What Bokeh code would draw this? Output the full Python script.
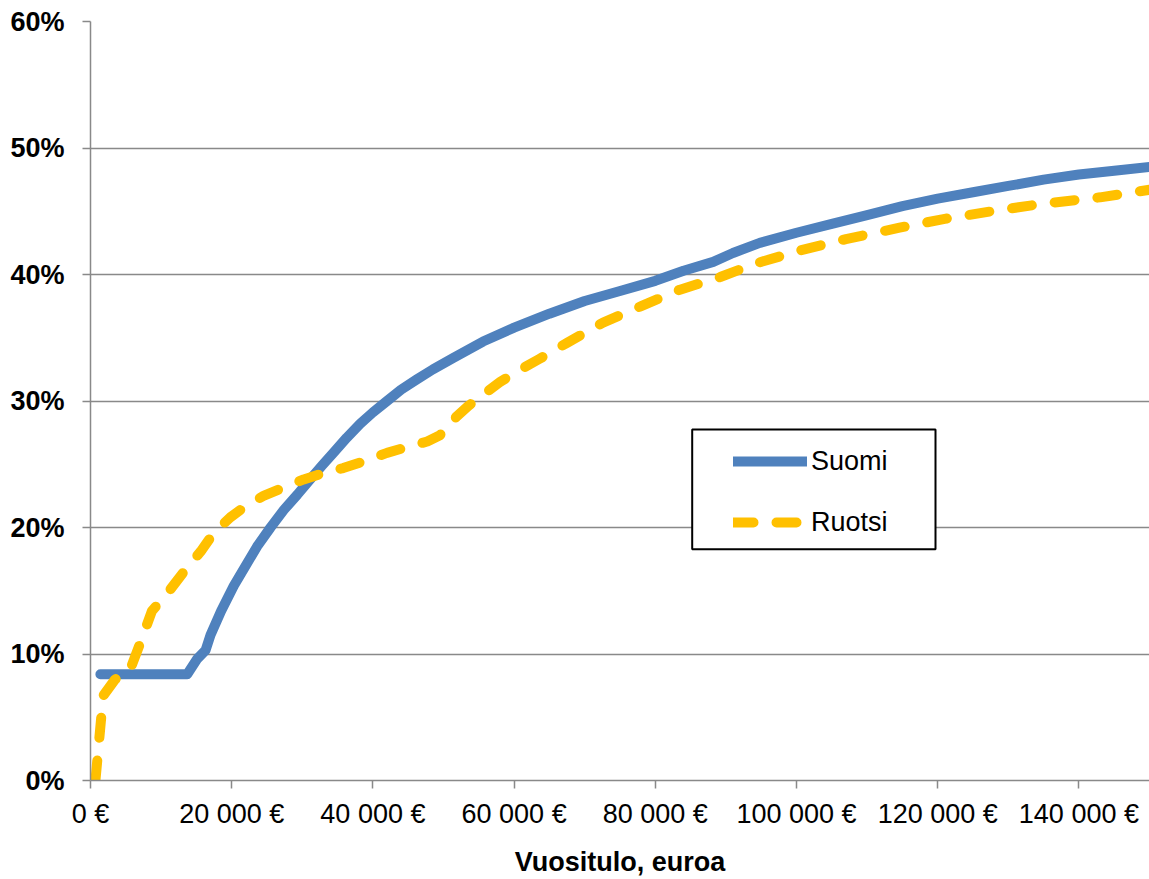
from bokeh.plotting import figure
from bokeh.models import Range1d, FixedTicker, Legend, LegendItem, BoxAnnotation
from bokeh.embed import file_html
from bokeh.resources import INLINE

# ---- data ----
suomi_income = [1400, 13700, 15100, 16300, 17000, 18500, 20300, 22000, 23600, 25500,
                27400, 29300, 31100, 32800, 34400, 36300, 38200, 40000, 42000, 44000,
                46200, 48500, 51400, 55600, 60000, 65000, 70000, 75000, 80000, 84000,
                88200, 91000, 94800, 100000, 105000, 110000, 115000, 120000, 125000,
                130000, 135000, 140000, 145000, 150000]
suomi_rate = [8.4, 8.4, 9.6, 10.3, 11.5, 13.4, 15.4, 17.0, 18.5, 20.0,
              21.4, 22.6, 23.8, 24.9, 25.9, 27.1, 28.2, 29.1, 30.0, 30.9,
              31.7, 32.5, 33.4, 34.7, 35.8, 36.9, 37.9, 38.7, 39.5, 40.3,
              41.0, 41.7, 42.5, 43.3, 44.0, 44.7, 45.4, 46.0, 46.5,
              47.0, 47.5, 47.9, 48.2, 48.5]

ruotsi_income = [700, 1800, 3500, 5500, 7000, 8700, 11300, 13500, 15600, 17500,
                 19800, 22000, 24500, 27500, 30200, 33000, 35800, 38500, 42000, 44500,
                 47700, 49500, 51900, 53500, 55600, 58000, 60000, 63500, 67500, 72600,
                 78000, 83500, 89200, 94400, 100500, 107000, 114600, 121000, 128800,
                 135000, 143000, 150000]
ruotsi_rate = [0.0, 6.7, 8.0, 8.6, 10.8, 13.4, 15.1, 16.7, 18.1, 19.6,
               20.8, 21.7, 22.5, 23.2, 23.8, 24.3, 24.7, 25.2, 25.9, 26.3,
               26.8, 27.3, 28.8, 29.6, 30.5, 31.5, 32.2, 33.3, 34.6, 36.2,
               37.5, 38.8, 39.8, 40.9, 41.9, 42.8, 43.7, 44.4, 45.1,
               45.6, 46.1, 46.7]

series_names = ["Suomi", "Ruotsi"]
x_ticks = [0, 20000, 40000, 60000, 80000, 100000, 120000, 140000]
x_tick_labels = ["0 €", "20 000 €", "40 000 €", "60 000 €", "80 000 €",
                 "100 000 €", "120 000 €", "140 000 €"]
y_ticks = [0, 10, 20, 30, 40, 50, 60]
y_tick_labels = ["0%", "10%", "20%", "30%", "40%", "50%", "60%"]
x_title = "Vuositulo, euroa"

FONT = "Liberation Sans"
GRAY = "#898989"

p = figure(width=1149, height=879, output_backend="svg", toolbar_location=None,
           x_range=Range1d(0, 150000), y_range=Range1d(0, 60),
           min_border_left=90, min_border_right=0, min_border_top=21,
           min_border_bottom=97)
p.outline_line_color = None
p.background_fill_color = "white"
p.border_fill_color = "white"

# axes
p.xaxis.ticker = FixedTicker(ticks=x_ticks)
p.xaxis.major_label_overrides = {t: l for t, l in zip(x_ticks, x_tick_labels)}
p.yaxis.ticker = FixedTicker(ticks=y_ticks)
p.yaxis.major_label_overrides = {t: l for t, l in zip(y_ticks, y_tick_labels)}
for ax in (p.xaxis, p.yaxis):
    ax.axis_line_color = GRAY
    ax.axis_line_width = 1.5
    ax.major_tick_line_color = GRAY
    ax.major_tick_line_width = 1.5
    ax.major_tick_in = 0
    ax.major_tick_out = 8
    ax.minor_tick_line_color = None
    ax.major_label_text_font = FONT
    ax.major_label_text_font_size = "27px"
    ax.major_label_text_color = "black"
p.yaxis.major_label_text_font_style = "bold"
p.yaxis.major_label_standoff = 18
p.xaxis.major_label_standoff = 10
p.xaxis.axis_label = x_title
p.xaxis.axis_label_text_font = FONT
p.xaxis.axis_label_text_font_size = "27px"
p.xaxis.axis_label_text_font_style = "bold"
p.xaxis.axis_label_text_color = "black"
p.xaxis.axis_label_standoff = 15

p.xgrid.visible = False
p.ygrid.ticker = FixedTicker(ticks=y_ticks)
p.ygrid.grid_line_color = GRAY
p.ygrid.grid_line_width = 1.5

r1 = p.line(suomi_income, suomi_rate, line_color="#4F81BD", line_width=10,
            line_join="round", line_cap="round")
r2 = p.line(ruotsi_income, ruotsi_rate, line_color="#FFC000", line_width=10,
            line_join="round", line_cap="round", line_dash="20 23")

# legend frame
box = BoxAnnotation(left=601.7, right=845, bottom=231.3, top=351,
                    left_units="screen", right_units="screen",
                    bottom_units="screen", top_units="screen",
                    fill_color="white", fill_alpha=1.0,
                    line_color="black", line_alpha=1.0, line_width=2)
p.add_layout(box)

legend = Legend(items=[LegendItem(label=series_names[0], renderers=[r1]),
                       LegendItem(label=series_names[1], renderers=[r2])],
                location=(601, 200), padding=42, spacing=29,
                glyph_width=74, glyph_height=32, label_height=32,
                label_standoff=4, border_line_alpha=0, background_fill_alpha=0,
                label_text_font=FONT, label_text_font_size="27px",
                label_text_color="black", margin=0)
p.add_layout(legend)

open("out.html", "w").write(file_html(p, INLINE))
